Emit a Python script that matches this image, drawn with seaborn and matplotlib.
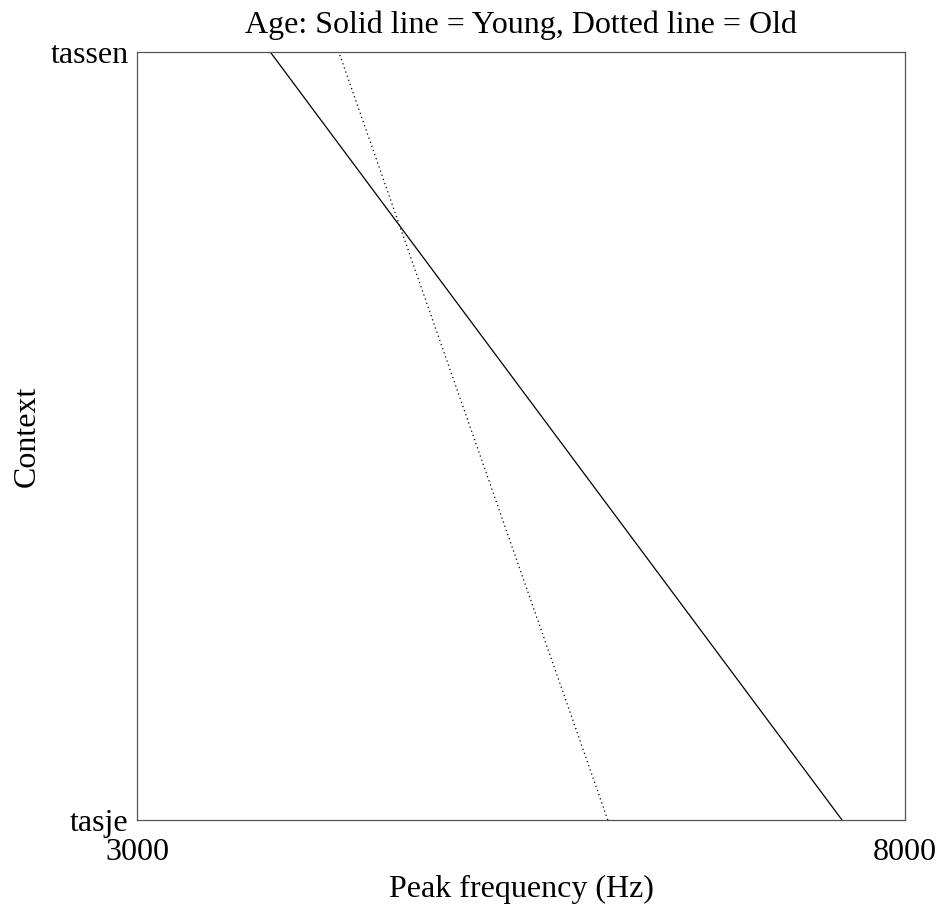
import matplotlib
matplotlib.use("Agg")
import matplotlib.pyplot as plt
import seaborn as sns
import pandas as pd

contexts = ["tasje", "tassen"]
young_freq = [7590, 3870]   # Hz at tasje, tassen
old_freq = [6065, 4315]
ages = ["Young", "Old"]

sns.set_theme(style="white")
plt.rcParams['font.family'] = ['Liberation Serif', 'DejaVu Serif']
plt.rcParams['text.color'] = 'black'
plt.rcParams['axes.labelcolor'] = 'black'
plt.rcParams['xtick.color'] = 'black'
plt.rcParams['ytick.color'] = 'black'

rows = []
for age, vals in zip(ages, [young_freq, old_freq]):
    for i, (c, v) in enumerate(zip(contexts, vals)):
        rows.append({"Age": age, "ctx": i, "freq": v})
df = pd.DataFrame(rows)

fs = 23
fig = plt.figure(figsize=(9.4, 9.06), dpi=100)
ax = fig.add_axes([137/940, 1 - 820/906, (905-137)/940, (820-52.5)/906])
sns.lineplot(data=df, x="freq", y="ctx", hue="Age", style="Age",
             palette={"Young": "black", "Old": "black"},
             dashes={"Young": "", "Old": (1, 2.5)},
             sort=False, estimator=None, linewidth=0.9, ax=ax, legend=False)
ax.set_xlim(3000, 8000)
ax.set_ylim(0, 1)
ax.set_xticks([3000, 8000])
ax.set_xticklabels(["3000", "8000"], fontsize=fs, color="black")
ax.set_yticks([0, 1])
ax.set_yticklabels(contexts, fontsize=fs, color="black")
ax.tick_params(axis="x", length=0, pad=13)
ax.tick_params(axis="y", length=0, pad=6)
ax.set_xlabel("Peak frequency (Hz)", fontsize=fs, labelpad=6, color="black")
ax.set_ylabel("Context", fontsize=fs, labelpad=6, color="black")
ax.set_title("Age: Solid line = Young, Dotted line = Old", fontsize=fs, pad=14, color="black")
for s in ax.spines.values():
    s.set_visible(True)
    s.set_color("#555555")
    s.set_linewidth(0.9)
fig.savefig("out.png", dpi=100, facecolor="white")
